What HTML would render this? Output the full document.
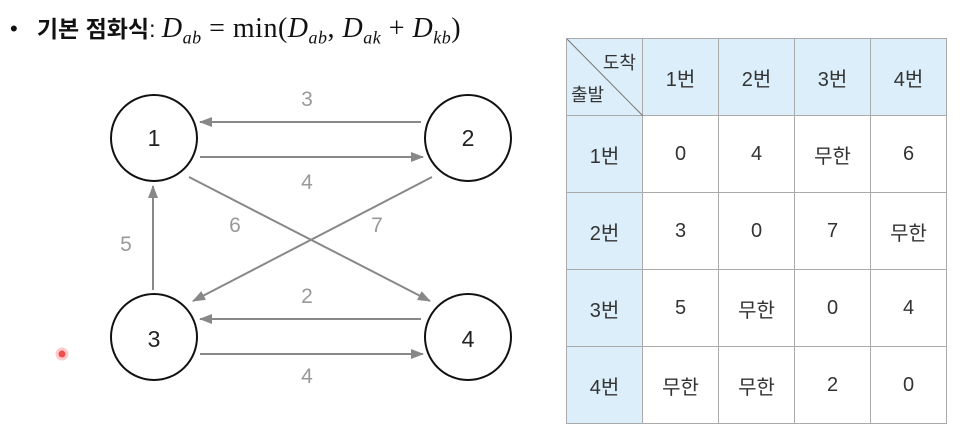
<!DOCTYPE html>
<html><head><meta charset="utf-8"><style>
body{margin:0;width:962px;height:448px;background:#fff;overflow:hidden;position:relative;font-family:"Liberation Sans","Noto Sans CJK KR",sans-serif}
.t{position:absolute;left:0;top:0}
table{position:absolute;left:566px;top:38px;border-collapse:collapse}
td{border:1.5px solid #aaa;width:75px;height:75px;text-align:center;font-size:20px;color:#333;padding:0;box-sizing:border-box}
tr{height:77px}
td{width:76px;height:77px}
.h{background:#dbeef9}
</style></head><body>
<div style="position:absolute;left:10px;top:10px;font-size:23px;color:#111;white-space:nowrap">
<span style="font-size:22px;vertical-align:1px">•</span>&nbsp;&nbsp;&nbsp;<b>기본 점화식</b>: <span style="font-family:'Liberation Serif',serif;font-size:28px;letter-spacing:0.5px"><i>D</i><sub style="font-size:18px"><i>ab</i></sub> = min(<i>D</i><sub style="font-size:18px"><i>ab</i></sub>, <i>D</i><sub style="font-size:18px"><i>ak</i></sub> + <i>D</i><sub style="font-size:18px"><i>kb</i></sub>)</span></div>
<svg class="t" width="962" height="448">
<defs><marker id="a" markerWidth="13" markerHeight="10" refX="12" refY="5" orient="auto" markerUnits="userSpaceOnUse"><path d="M0,0L13,5L0,10z" fill="#888"/></marker></defs>
<g stroke="#888" stroke-width="2" fill="none" marker-end="url(#a)">
<line x1="421" y1="122" x2="200" y2="122"/>
<line x1="200" y1="157" x2="423" y2="157"/>
<line x1="421" y1="319" x2="200" y2="319"/>
<line x1="200" y1="354" x2="423" y2="354"/>
<line x1="153" y1="290" x2="153" y2="186"/>
<line x1="189" y1="177" x2="430" y2="301"/>
<line x1="432" y1="177" x2="193" y2="301"/>
</g>
<g stroke="#111" stroke-width="2" fill="#fff">
<circle cx="154" cy="138" r="43"/><circle cx="468" cy="138" r="43"/>
<circle cx="154" cy="337" r="43"/><circle cx="468" cy="337" r="43"/>
</g>
<g font-family="Liberation Sans" font-size="23" text-anchor="middle" fill="#222">
<text x="154" y="146">1</text><text x="468" y="146">2</text><text x="154" y="347">3</text><text x="468" y="347">4</text>
</g>
<g font-family="Liberation Sans" font-size="21" text-anchor="middle" fill="#999">
<text x="307" y="106">3</text><text x="307" y="189">4</text><text x="307" y="303">2</text><text x="307" y="383">4</text>
<text x="126" y="251">5</text><text x="235" y="232">6</text><text x="377" y="232">7</text>
</g>
<circle cx="62" cy="354" r="5" fill="#f05050" stroke="#fcc" stroke-width="3"/>
</svg>
<table>
<tr><td class="h" style="position:relative"><svg style="position:absolute;left:0;top:0" width="76" height="77"><line x1="0" y1="0" x2="76" y2="77" stroke="#777" stroke-width="1"/></svg><span style="position:absolute;right:6px;top:10px;font-size:18px">도착</span><span style="position:absolute;left:4px;bottom:8px;font-size:18px">출발</span></td><td class="h">1번</td><td class="h">2번</td><td class="h">3번</td><td class="h">4번</td></tr>
<tr><td class="h">1번</td><td>0</td><td>4</td><td>무한</td><td>6</td></tr>
<tr><td class="h">2번</td><td>3</td><td>0</td><td>7</td><td>무한</td></tr>
<tr><td class="h">3번</td><td>5</td><td>무한</td><td>0</td><td>4</td></tr>
<tr><td class="h">4번</td><td>무한</td><td>무한</td><td>2</td><td>0</td></tr>
</table>
</body></html>
